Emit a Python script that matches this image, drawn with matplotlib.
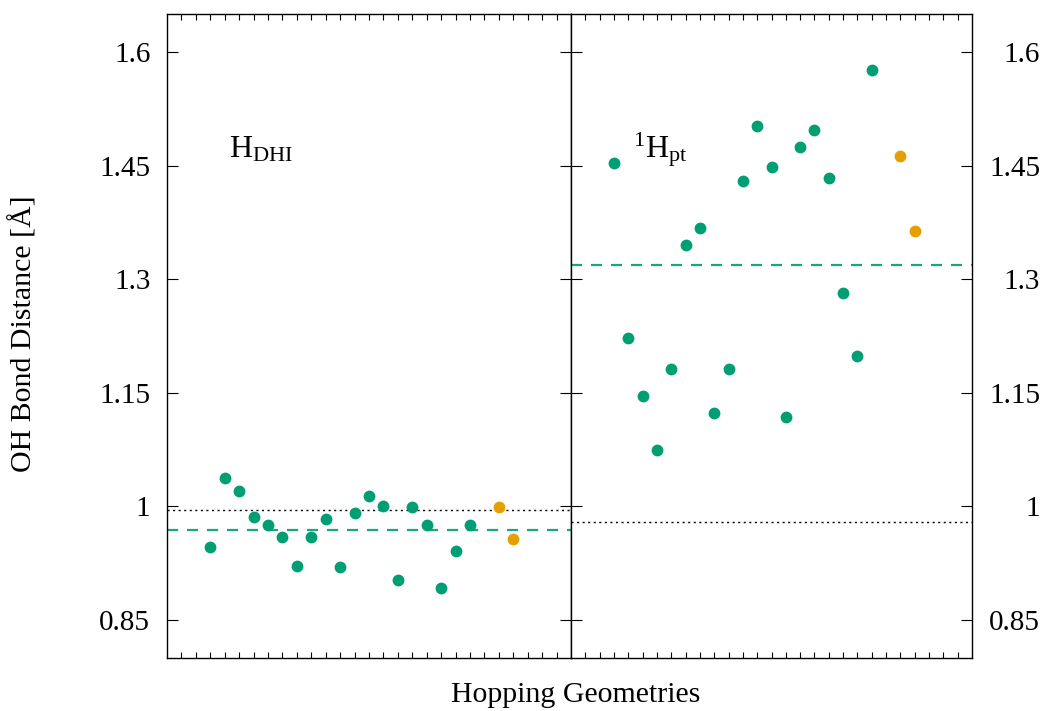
import matplotlib
matplotlib.use("Agg")
import matplotlib.pyplot as plt

plt.rcParams['font.family'] = ['Liberation Serif', 'DejaVu Serif']
plt.rcParams['mathtext.fontset'] = 'custom'
plt.rcParams['mathtext.rm'] = 'Liberation Serif'
plt.rcParams['mathtext.it'] = 'Liberation Serif:italic'

green = '#009e73'
orange = '#e69f00'

# geometry index (green = hopping geometries, orange = extra ones)
x_green = list(range(3, 22))
x_orange = [23, 24]

# left panel: H_DHI
dhi_green = [0.946, 1.037, 1.020, 0.986, 0.975, 0.960, 0.921, 0.960, 0.983, 0.920,
             0.992, 1.014, 1.001, 0.903, 0.999, 0.975, 0.893, 0.941, 0.975]
dhi_orange = [0.999, 0.957]
dhi_mean = 0.969
dhi_ref = 0.995

# right panel: 1H_pt
pt_green = [1.454, 1.222, 1.146, 1.075, 1.181, 1.345, 1.368, 1.123, 1.182, 1.429,
            1.502, 1.448, 1.118, 1.474, 1.497, 1.433, 1.282, 1.198, 1.576]
pt_orange = [1.463, 1.363]
pt_mean = 1.319
pt_ref = 0.980

yticks = [0.85, 1.0, 1.15, 1.3, 1.45, 1.6]
ytick_labels = ['0.85', '1', '1.15', '1.3', '1.45', '1.6']

fig = plt.figure(figsize=(10.53, 7.11), dpi=100)
ax1 = fig.add_axes([0.1586, 0.0745, 0.3837, 0.9058])
ax2 = fig.add_axes([0.5423, 0.0745, 0.3808, 0.9058])

panels = [(ax1, dhi_green, dhi_orange, dhi_mean, dhi_ref, r'$\mathrm{H}_{\mathrm{DHI}}$'),
          (ax2, pt_green, pt_orange, pt_mean, pt_ref, r'$^{1}\mathrm{H}_{\mathrm{pt}}$')]

for ax, yg, yo, mean, ref, label in panels:
    ax.axhline(ref, color='black', linestyle=(0, (1.5, 2.5)), linewidth=1.0)
    ax.axhline(mean, color=green, linestyle=(0, (5, 4)), linewidth=1.6, alpha=0.9)
    ax.plot(x_green, yg, 'o', color=green, markersize=8.5, markeredgewidth=0)
    ax.plot(x_orange, yo, 'o', color=orange, markersize=8.5, markeredgewidth=0)
    ax.set_xlim(0, 28)
    ax.set_ylim(0.8, 1.65)
    ax.set_xticks(range(1, 28))
    ax.set_xticklabels([])
    ax.set_yticks(yticks)
    ax.set_yticklabels(ytick_labels)
    ax.tick_params(axis='x', direction='in', length=4, width=0.8, top=True, bottom=True)
    ax.tick_params(axis='y', direction='in', length=8, width=0.8, left=True, right=True,
                   labelsize=21)
    for s in ax.spines.values():
        s.set_linewidth(1.0)
    ax.text(4.3, 1.461, label, fontsize=23)

ax1.tick_params(axis='y', pad=12)
# right-hand labels are right-aligned, like gnuplot's y2 labels
ax2.tick_params(axis='y', labelleft=False, labelright=True, pad=49)
for t in ax2.get_yticklabels():
    t.set_horizontalalignment('right')

fig.text(0.547, 0.022, 'Hopping Geometries', fontsize=21.5, ha='center', va='center')
fig.text(0.022, 0.530, 'OH Bond Distance [Å]', fontsize=21.5, ha='center', va='center',
         rotation=90)

fig.savefig('out.png', dpi=100)
